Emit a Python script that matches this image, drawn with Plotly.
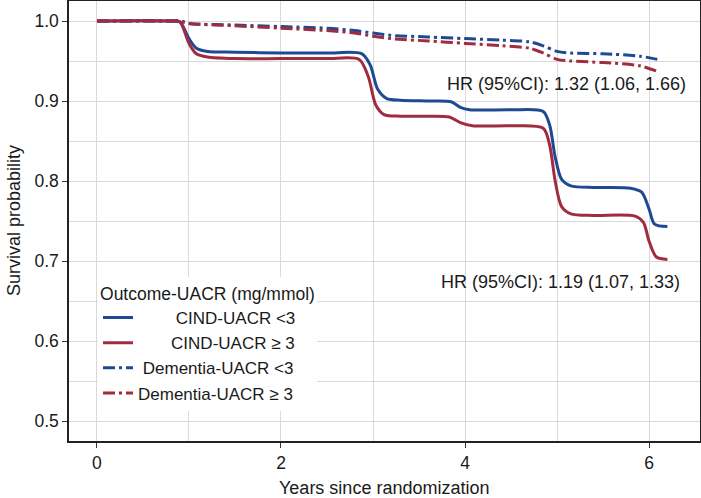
import plotly.graph_objects as go

# ---- data ----
cind_lo_x = [0, 0.8, 0.9, 1.0, 1.08, 1.2, 1.5, 2.0, 2.5, 2.88, 2.97, 3.05, 3.15, 3.3, 3.6, 3.85, 3.95, 4.05, 4.5, 4.85, 4.92, 4.98, 5.05, 5.15, 5.4, 5.8, 5.92, 6.0, 6.06, 6.2]
cind_lo_y = [1.0, 1.0, 0.999, 0.978, 0.966, 0.962, 0.961, 0.960, 0.960, 0.959, 0.945, 0.915, 0.903, 0.901, 0.900, 0.899, 0.892, 0.889, 0.889, 0.887, 0.870, 0.830, 0.802, 0.794, 0.792, 0.791, 0.786, 0.765, 0.746, 0.743]

cind_hi_x = [0, 0.8, 0.9, 1.0, 1.08, 1.2, 1.5, 2.0, 2.5, 2.85, 2.95, 3.03, 3.12, 3.3, 3.6, 3.83, 3.95, 4.08, 4.5, 4.85, 4.92, 4.98, 5.05, 5.15, 5.4, 5.85, 5.94, 6.0, 6.08, 6.2]
cind_hi_y = [1.0, 1.0, 0.999, 0.972, 0.959, 0.955, 0.953, 0.953, 0.953, 0.952, 0.930, 0.895, 0.883, 0.881, 0.881, 0.880, 0.873, 0.869, 0.869, 0.866, 0.845, 0.800, 0.768, 0.759, 0.757, 0.756, 0.748, 0.725, 0.705, 0.702]

dem_lo_x = [0, 0.8, 0.9, 1.0, 1.5, 2.0, 2.5, 2.8, 3.0, 3.2, 3.6, 4.0, 4.4, 4.7, 4.85, 5.0, 5.15, 5.5, 5.9, 6.09]
dem_lo_y = [1.0, 1.0, 1.0, 0.997, 0.995, 0.993, 0.991, 0.988, 0.985, 0.982, 0.980, 0.978, 0.976, 0.974, 0.969, 0.962, 0.960, 0.959, 0.956, 0.952]

dem_hi_x = [0, 0.8, 0.9, 1.0, 1.5, 2.0, 2.5, 2.8, 3.0, 3.2, 3.6, 4.0, 4.4, 4.7, 4.85, 5.0, 5.15, 5.5, 5.9, 6.09]
dem_hi_y = [1.0, 1.0, 1.0, 0.997, 0.994, 0.991, 0.988, 0.985, 0.981, 0.978, 0.975, 0.972, 0.969, 0.966, 0.960, 0.952, 0.950, 0.948, 0.944, 0.937]

series_names = ["CIND-UACR <3", "CIND-UACR \u2265 3", "Dementia-UACR <3", "Dementia-UACR \u2265 3"]
name_pad = [8, 7, 1, 0]
x_ticks = [0, 2, 4, 6]
y_ticks = [0.5, 0.6, 0.7, 0.8, 0.9, 1.0]
y_tick_labels = ["0.5", "0.6", "0.7", "0.8", "0.9", "1.0"]
hr_texts = ["HR (95%CI): 1.32 (1.06, 1.66)", "HR (95%CI): 1.19 (1.07, 1.33)"]
x_title = "Years since randomization"
y_title = "Survival probability"

BLUE = "#1f4a93"
RED = "#a02c3f"
TXT = "#1a1a1a"
FONT = "Liberation Sans, Arial, sans-serif"
DASHDOT = "12px,4px,3px,4px"

fig = go.Figure()
specs = [
    (cind_lo_x, cind_lo_y, BLUE, "solid"),
    (cind_hi_x, cind_hi_y, RED, "solid"),
    (dem_lo_x, dem_lo_y, BLUE, DASHDOT),
    (dem_hi_x, dem_hi_y, RED, DASHDOT),
]
for (xs, ys, col, dash), nm, pad in zip(specs, series_names, name_pad):
    fig.add_trace(go.Scatter(
        x=xs, y=ys, mode="lines", name="\u00a0" * pad + nm,
        line=dict(color=col, width=3, dash=dash, shape="spline", smoothing=0.8),
    ))

W, H = 701, 498
L, R, T, B = 69, 1, 1, 57
pw, ph = W - L - R, H - T - B

fig.add_annotation(x=6.42, y=0.921, xref="x", yref="y", text=hr_texts[0],
                   showarrow=False, xanchor="right", yanchor="middle",
                   font=dict(size=18, color=TXT, family=FONT))
fig.add_annotation(x=6.36, y=0.674, xref="x", yref="y", text=hr_texts[1],
                   showarrow=False, xanchor="right", yanchor="middle",
                   font=dict(size=18, color=TXT, family=FONT))
# axis titles (positions given in pixels, converted to paper coordinates)
fig.add_annotation(x=(384 - L) / pw, y=(H - B - 488) / ph, xref="paper", yref="paper",
                   text=x_title, showarrow=False, xanchor="center", yanchor="middle",
                   font=dict(size=18, color=TXT, family=FONT))
fig.add_annotation(x=(14 - L) / pw, y=(H - B - 220) / ph, xref="paper", yref="paper",
                   text=y_title, showarrow=False, textangle=-90,
                   xanchor="center", yanchor="middle",
                   font=dict(size=18, color=TXT, family=FONT))

fig.update_layout(
    width=W, height=H,
    margin=dict(l=L, r=R, t=T, b=B, autoexpand=False),
    paper_bgcolor="white", plot_bgcolor="white",
    font=dict(family=FONT, size=17, color=TXT),
    showlegend=True,
    legend=dict(
        title=dict(text="Outcome-UACR (mg/mmol)", font=dict(size=17.5)),
        x=0.046, y=0.372, xanchor="left", yanchor="top",
        bgcolor="white", borderwidth=0, font=dict(size=17),
        itemwidth=30,
    ),
    xaxis=dict(
        range=[-0.304, 6.554], tickvals=x_ticks, ticks="outside", ticklen=5,
        tickcolor="#333333", showline=True, linecolor="#222222", linewidth=1.5,
        mirror=True, showgrid=True, gridcolor="#d9d9d9", gridwidth=1,
        minor=dict(dtick=1, tick0=0, showgrid=True, gridcolor="#d9d9d9", gridwidth=1),
        zeroline=False, automargin=False,
        tickfont=dict(size=17.5),
    ),
    yaxis=dict(
        range=[0.475, 1.025], tickvals=y_ticks, ticktext=y_tick_labels,
        ticks="outside", ticklen=5, tickcolor="#333333",
        showline=True, linecolor="#222222", linewidth=1.5, mirror=True,
        showgrid=True, gridcolor="#d9d9d9", gridwidth=1,
        minor=dict(dtick=0.05, tick0=0.5, showgrid=True, gridcolor="#d9d9d9", gridwidth=1),
        zeroline=False, automargin=False,
        tickfont=dict(size=17.5),
    ),
)

fig.write_html("out.html", config={"displayModeBar": False},
               post_script="document.body.style.margin='0';document.body.style.overflow='hidden';")
